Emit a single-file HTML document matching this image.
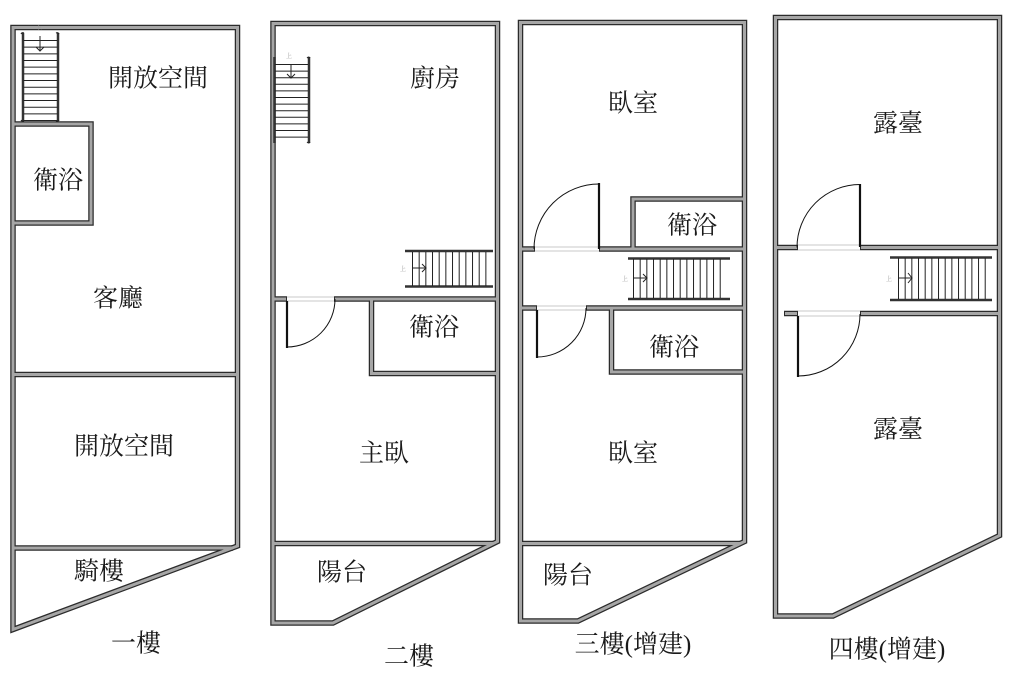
<!DOCTYPE html>
<html>
<head>
<meta charset="utf-8">
<style>
html,body{margin:0;padding:0;background:#fff;}
svg{display:block;}
text{font-family:"Liberation Serif","Noto Serif CJK SC","Noto Sans CJK TC",serif;fill:#1a1a1a;}
</style>
</head>
<body>
<svg width="1031" height="697" viewBox="0 0 1031 697" xmlns="http://www.w3.org/2000/svg">
<rect width="1031" height="697" fill="#fff"/>

<!-- wall dark outlines -->
<g fill="none" stroke="#2b2b2b" stroke-width="5.5" stroke-linejoin="miter">
  <!-- floor 1 -->
  <path d="M13,27.5 H237.5 V546 L13,629.5 Z"/>
  <path d="M13,374.5 H237.5"/>
  <path d="M13,548 H233"/>
  <path d="M13,124 H91 V223 H13"/>
  <!-- floor 2 -->
  <path d="M273,23.5 H497.5 V541.5 L333,623 H273 Z"/>
  <path d="M273,299 H287"/>
  <path d="M334,299 H497.5"/>
  <path d="M371.5,299 V373.5 H497.5"/>
  <path d="M273,543.5 H494"/>
  <!-- floor 3 -->
  <path d="M520.5,22.5 H744.5 V541.5 L578,621 H520.5 Z"/>
  <path d="M520.5,249 H535"/>
  <path d="M599,249 H744.5"/>
  <path d="M633,249 V199 H744.5"/>
  <path d="M520.5,308 H537"/>
  <path d="M586,308 H744.5"/>
  <path d="M611.5,308 V372 H744.5"/>
  <path d="M520.5,543.5 H741"/>
  <!-- floor 4 -->
  <path d="M775.5,17.5 H999.5 V535.5 L833,616 H775.5 Z"/>
  <path d="M775.5,247.5 H798"/>
  <path d="M860,247.5 H999.5"/>
  <path d="M784,313.5 H798"/>
  <path d="M860,313.5 H999.5"/>
</g>
<!-- wall grey fill -->
<g fill="none" stroke="#a6a6a6" stroke-width="3" stroke-linejoin="miter">
  <path d="M13,27.5 H237.5 V546 L13,629.5 Z"/>
  <path d="M13,374.5 H237.5"/>
  <path d="M13,548 H233"/>
  <path d="M13,124 H91 V223 H13"/>
  <path d="M273,23.5 H497.5 V541.5 L333,623 H273 Z"/>
  <path d="M273,299 H286"/>
  <path d="M335,299 H497.5"/>
  <path d="M371.5,299 V373.5 H497.5"/>
  <path d="M273,543.5 H494"/>
  <path d="M520.5,22.5 H744.5 V541.5 L578,621 H520.5 Z"/>
  <path d="M520.5,249 H534"/>
  <path d="M600,249 H744.5"/>
  <path d="M633,249 V199 H744.5"/>
  <path d="M520.5,308 H536"/>
  <path d="M587,308 H744.5"/>
  <path d="M611.5,308 V372 H744.5"/>
  <path d="M520.5,543.5 H741"/>
  <path d="M775.5,17.5 H999.5 V535.5 L833,616 H775.5 Z"/>
  <path d="M775.5,247.5 H797"/>
  <path d="M861,247.5 H999.5"/>
  <path d="M785,313.5 H797"/>
  <path d="M861,313.5 H999.5"/>
</g>

<!-- door openings (thin light lines) -->
<g stroke="#c8c8c8" stroke-width="1" fill="none">
  <path d="M287,297 H334 M287,301 H334"/>
  <path d="M535,247 H599 M535,251 H599"/>
  <path d="M537,306 H586 M537,310 H586"/>
  <path d="M798,245 H860 M798,250 H860"/>
  <path d="M798,311 H860 M798,316 H860"/>
</g>

<!-- doors -->
<g fill="none" stroke="#111">
  <path d="M287,301 V348" stroke-width="2.2"/>
  <path d="M287,347 A48,48 0 0 0 335,299" stroke-width="1"/>
  <path d="M599,249 V183" stroke-width="2.2"/>
  <path d="M599,184 A65,65 0 0 0 534,249" stroke-width="1"/>
  <path d="M537,310 V358" stroke-width="2.2"/>
  <path d="M537,357 A49,49 0 0 0 586,308" stroke-width="1"/>
  <path d="M860,247 V184" stroke-width="2.2"/>
  <path d="M860,184.5 A63,63 0 0 0 797,247.5" stroke-width="1"/>
  <path d="M798,316 V377" stroke-width="2.2"/>
  <path d="M798,376 A62,62 0 0 0 860,314" stroke-width="1"/>
</g>

<!-- stairs -->
<g fill="none" stroke="#222">
  <!-- floor 1 -->
  <path d="M23,33 V121 M58,33 V121" stroke-width="2.5" stroke="#333"/>
  <path d="M21,34 q1,-2 3,-1 M21,120 q1,2 3,1 M56,33 q2,-1 3,1 M56,121 q2,1 3,-1" stroke-width="1"/>
  <path d="M40.5,40 V121" stroke-width="34" stroke-dasharray="1 5.67"/>
  <path d="M40,36 V51 M36,47 L40,51 L44,47" stroke-width="1"/>
  <!-- floor 2 vertical -->
  <path d="M274.5,57 V143 M309,57 V143" stroke-width="2.5" stroke="#333"/>
  <path d="M307,58 q2,-2 3,0 M307,142 q2,2 3,0" stroke-width="1"/>
  <path d="M291.5,64 V138" stroke-width="33" stroke-dasharray="1 5.6"/>
  <path d="M291,64 V78 M287,74 L291,78 L295,74" stroke-width="1"/>
  <!-- floor 2 horizontal -->
  <path d="M405,251 H493 M405,286.5 H493" stroke-width="2.5" stroke="#333"/>
  <path d="M412,269 H487" stroke-width="34" stroke-dasharray="1 5.67"/>
  <path d="M412,268 H426 M422,264 L426,268 L422,272" stroke-width="1"/>
  <!-- floor 3 -->
  <path d="M628,258.5 H730 M628,299 H730" stroke-width="2.5" stroke="#333"/>
  <path d="M633,278.5 H724" stroke-width="39" stroke-dasharray="1 5.67"/>
  <path d="M633,278 H647 M643,274 L647,278 L643,282" stroke-width="1"/>
  <!-- floor 4 -->
  <path d="M890,257.5 H992 M890,300 H992" stroke-width="2.5" stroke="#333"/>
  <path d="M898,278.5 H987" stroke-width="41" stroke-dasharray="1 5.67"/>
  <path d="M898,278 H912 M908,273 L912,278 L908,283" stroke-width="1"/>
</g>
<g font-size="6" fill="#888">
  <text x="36" y="30" style="fill:#999">上</text>
  <text x="286" y="58" style="fill:#999">上</text>
  <text x="400" y="271" style="fill:#999">上</text>
  <text x="622" y="281" style="fill:#999">上</text>
  <text x="886" y="281" style="fill:#999">上</text>
</g>

<!-- labels -->
<g font-size="25" text-anchor="middle" dominant-baseline="central">
  <text x="158" y="79">開放空間</text>
  <text x="58" y="181">衛浴</text>
  <text x="118" y="299">客廳</text>
  <text x="124" y="447">開放空間</text>
  <text x="99" y="572">騎樓</text>
  <text x="136" y="644">一樓</text>

  <text x="435" y="79">廚房</text>
  <text x="434" y="328">衛浴</text>
  <text x="384" y="454">主臥</text>
  <text x="342" y="573">陽台</text>
  <text x="409" y="657">二樓</text>

  <text x="633" y="104">臥室</text>
  <text x="692" y="226">衛浴</text>
  <text x="674" y="348">衛浴</text>
  <text x="633" y="454">臥室</text>
  <text x="568" y="576">陽台</text>
  <text x="633" y="645">三樓(增建)</text>

  <text x="898" y="124">露臺</text>
  <text x="898" y="430">露臺</text>
  <text x="887" y="650">四樓(增建)</text>
</g>
</svg>
</body>
</html>
